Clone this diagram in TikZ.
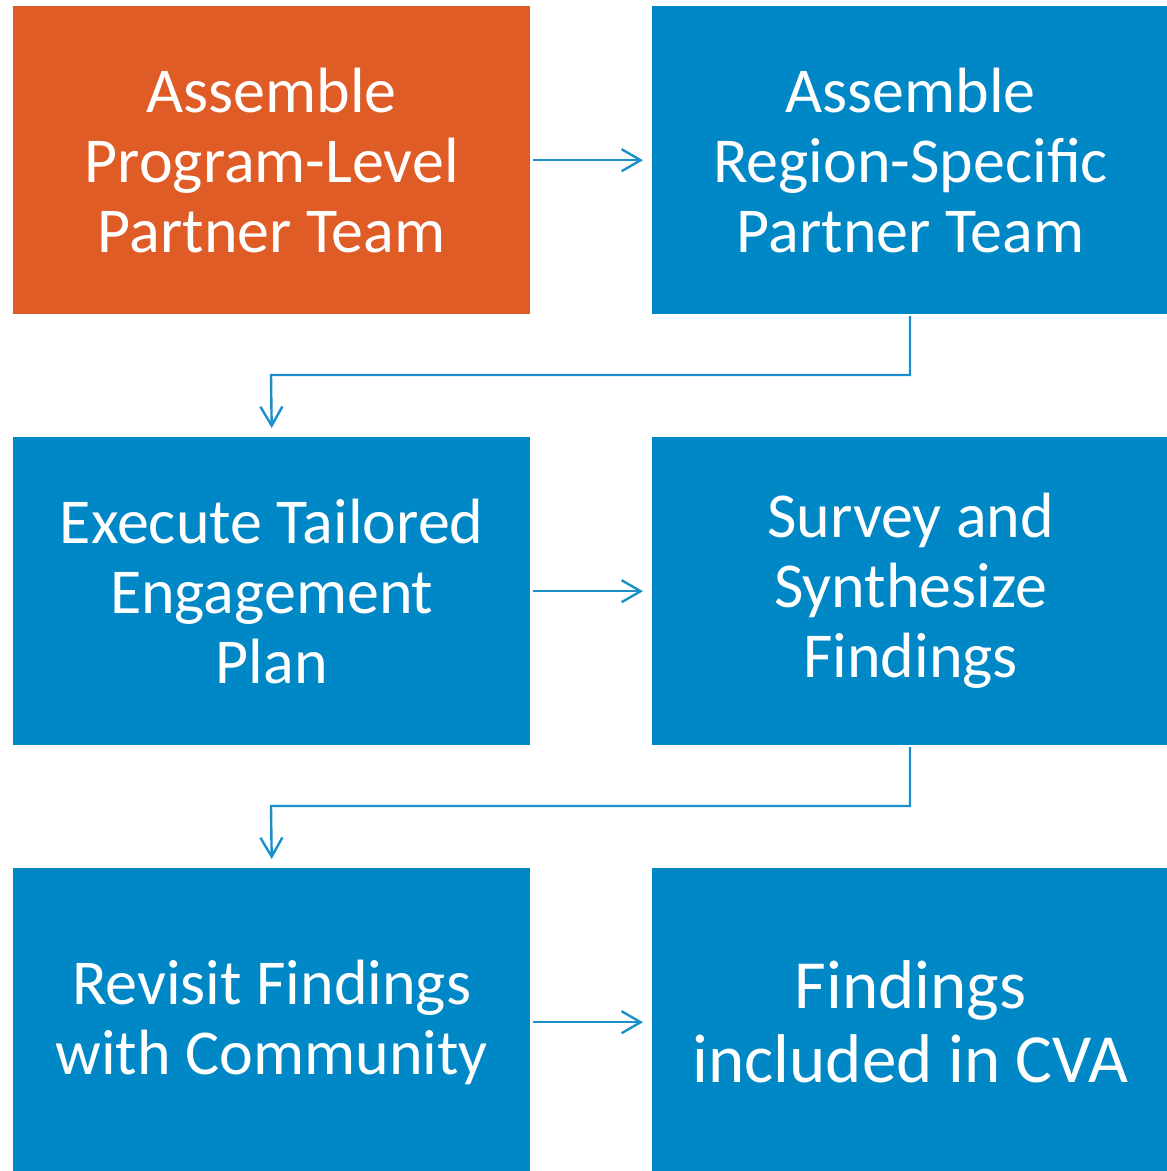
\documentclass[tikz,border=0pt]{standalone}
\usepackage{fontspec}
\setmainfont{Carlito}
\usetikzlibrary{arrows.meta}
\definecolor{boxorange}{HTML}{DF5C27}
\definecolor{boxblue}{HTML}{0088C6}
\definecolor{linkblue}{HTML}{1A8FCB}
\begin{document}
\begin{tikzpicture}[x=1pt,y=-1pt,
  stepbox/.style={draw=none, fill=boxblue, minimum width=517pt, minimum height=308pt,
    inner sep=0pt, text=white, align=center, font=\fontsize{64}{70}\selectfont, anchor=north west},
  link/.style={draw=linkblue, line width=2.4pt, -{Straight Barb[length=19pt,width=22pt,line width=2.4pt]}}]
\useasboundingbox (0,0) rectangle (1167,1171);
\clip (0,0) rectangle (1167,1171);
\node[stepbox, fill=boxorange] (a) at (13,6) {Assemble\\Program-Level\\Partner Team};
\node[stepbox] (b) at (652,6) {Assemble\\Region-Specific\\Partner Team};
\node[stepbox] (c) at (13,437) {Execute Tailored\\Engagement\\Plan};
\node[stepbox] (d) at (652,437) {Survey and\\Synthesize\\Findings};
\node[stepbox] (e) at (13,868) {Revisit Findings\\with Community};
\node[stepbox, font=\fontsize{69}{74}\selectfont] (f) at (652,868) {Findings\\included in CVA};
\coordinate (bc) at (910,316);
\coordinate (dc) at (910,747);
\draw[link] ([xshift=3pt]a.east) -- ([xshift=-9pt]b.west);
\draw[link] ([xshift=3pt]c.east) -- ([xshift=-9pt]d.west);
\draw[link] ([xshift=3pt]e.east) -- ([xshift=-9pt]f.west);
\draw[link] (bc) -- (910,375) -- (271,375) -- ([yshift=9pt]c.north);
\draw[link] (dc) -- (910,806) -- (271,806) -- ([yshift=9pt]e.north);
\end{tikzpicture}
\end{document}
